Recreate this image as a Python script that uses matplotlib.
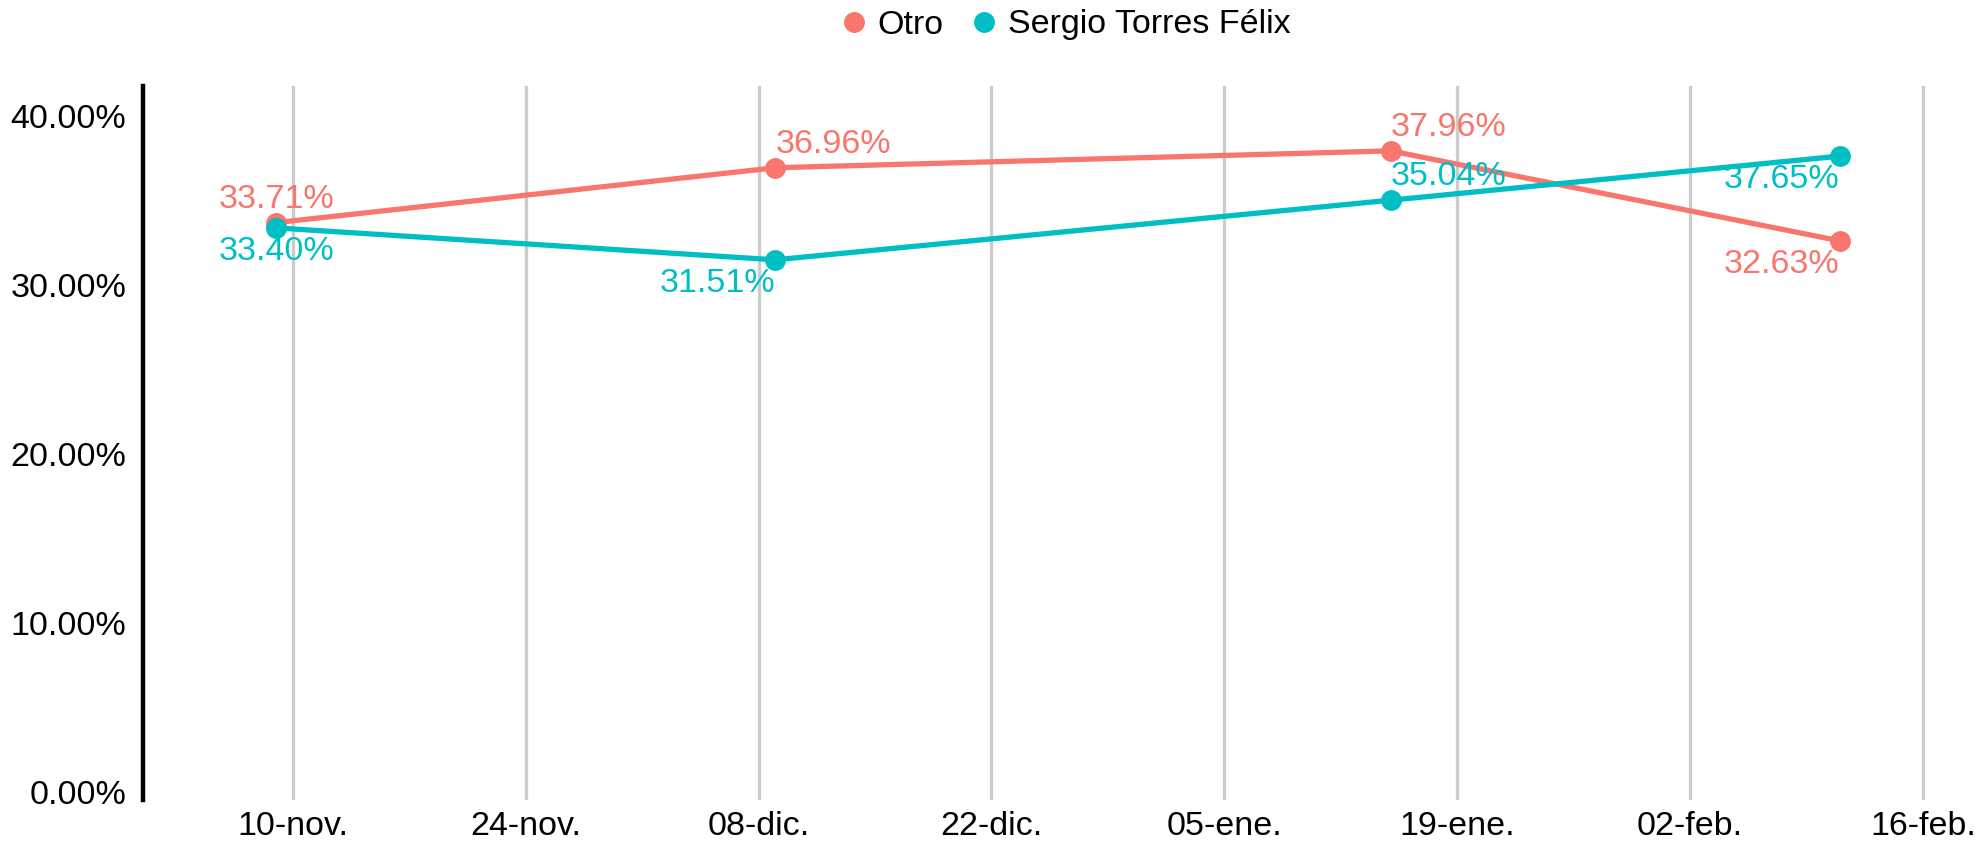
import datetime as dt
import matplotlib
matplotlib.use("Agg")
import matplotlib.pyplot as plt
import matplotlib.dates as mdates
from matplotlib.ticker import FuncFormatter
from matplotlib.lines import Line2D

plt.rcParams["font.family"] = ["Liberation Sans", "DejaVu Sans"]

# ======== data ========
fechas = [dt.date(2023, 11, 9), dt.date(2023, 12, 9), dt.date(2024, 1, 15), dt.date(2024, 2, 11)]
otro = [33.71, 36.96, 37.96, 32.63]
sergio = [33.40, 31.51, 35.04, 37.65]
series_names = ["Otro", "Sergio Torres Félix"]
colores = ["#F8766D", "#00BFC4"]
meses = ["ene.", "feb.", "mar.", "abr.", "may.", "jun.",
         "jul.", "ago.", "sep.", "oct.", "nov.", "dic."]

# label placement (ha, up/down) per point
lab_otro = [("center", 1), ("left", 1), ("left", 1), ("right", -1)]
lab_sergio = [("center", -1), ("right", -1), ("left", 1), ("right", -1)]

W, H = 1982, 843
fig = plt.figure(figsize=(W / 100, H / 100), dpi=100)
ax = fig.add_axes([143 / W, 1 - 800 / H, (1973 - 143) / W, (800 - 86) / H])

FS = 24.5
for vals, col, labs in [(otro, colores[0], lab_otro), (sergio, colores[1], lab_sergio)]:
    ax.plot(fechas, vals, color=col, lw=3.8, marker="o", ms=14, zorder=3,
            solid_capstyle="round")
    for d, v, (ha, sgn) in zip(fechas, vals, labs):
        ax.annotate(f"{v:.2f}%", (mdates.date2num(d), v), xytext=(0, 17 * sgn),
                    textcoords="offset points", ha=ha, va="center",
                    color=col, fontsize=FS, zorder=4)

ax.set_xlim(mdates.date2num(dt.date(2023, 11, 1)), mdates.date2num(dt.date(2024, 2, 19)))
ax.set_ylim(-0.47, 41.8)

ticks = [mdates.date2num(dt.date(2023, 11, 10)) + 14 * i for i in range(8)]
ax.set_xticks(ticks)
ax.xaxis.set_major_formatter(FuncFormatter(
    lambda x, p: f"{mdates.num2date(x).day:02d}-{meses[mdates.num2date(x).month - 1]}"))
ax.set_yticks([0, 10, 20, 30, 40])
ax.yaxis.set_major_formatter(FuncFormatter(lambda y, p: f"{y:.2f}%"))

ax.tick_params(axis="both", length=0, labelsize=FS, colors="black")
ax.tick_params(axis="x", pad=8)
ax.tick_params(axis="y", pad=12)

ax.grid(axis="x", color="#cccccc", lw=2.4)
ax.grid(axis="y", visible=False)
ax.set_axisbelow(True)
for s in ["top", "right", "bottom"]:
    ax.spines[s].set_visible(False)
ax.spines["left"].set_linewidth(3.2)
ax.spines["left"].set_color("black")

handles = [Line2D([], [], ls="none", marker="o", ms=14, color=c) for c in colores]
fig.legend(handles, series_names, loc="center", bbox_to_anchor=(1062 / W, 1 - 25 / H),
           ncol=2, frameon=False, fontsize=FS, handletextpad=0.1, columnspacing=0.6,
           handlelength=1.2)

fig.savefig("out.png", dpi=100)
